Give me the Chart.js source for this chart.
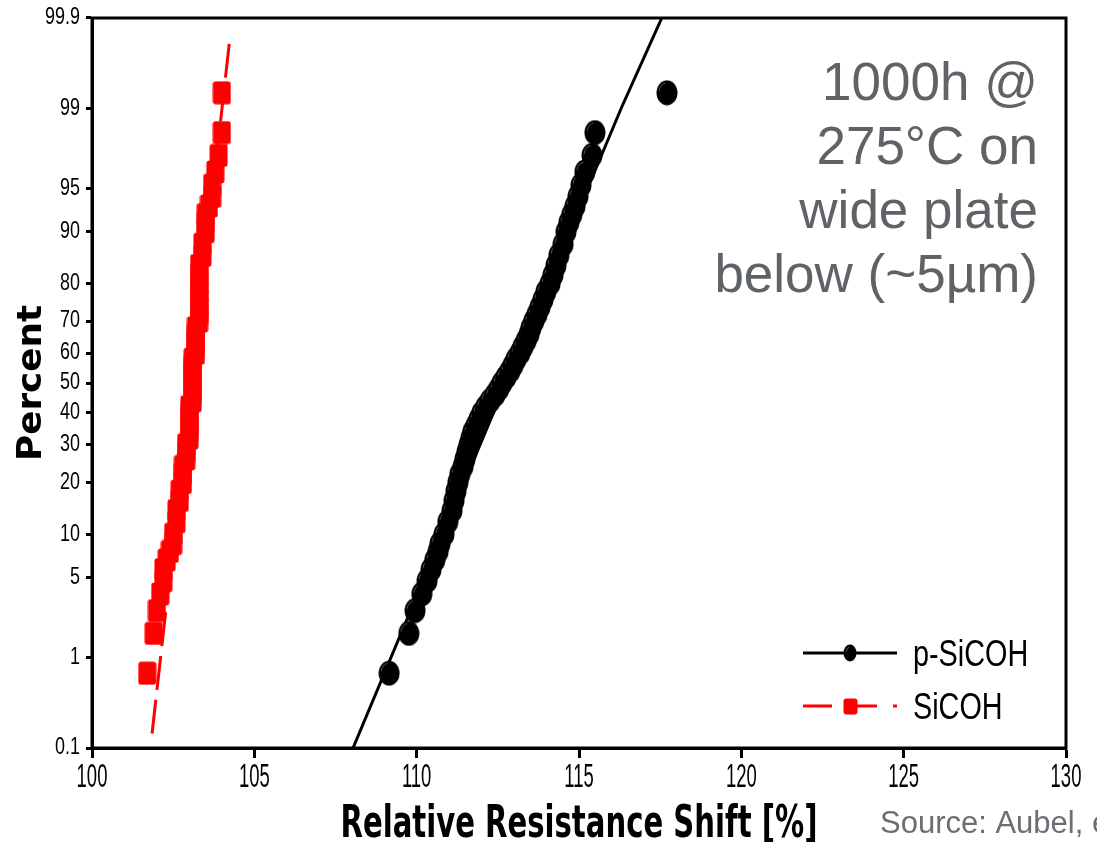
<!DOCTYPE html>
<html>
<head>
<meta charset="utf-8">
<script src="https://cdn.jsdelivr.net/npm/chart.js@4.4.1/dist/chart.umd.min.js"></script>
<style>
  html, body { margin: 0; padding: 0; background: #fff; }
  #wrap { width: 1097px; height: 842px; position: relative; }
</style>
</head>
<body>
<div id="wrap"><canvas id="chart"></canvas></div>
<script>
// cumulative percent (median rank) of each sample, shared by both wafers
const percentRank = [0.7, 1.7, 2.7, 3.7, 4.7, 5.7, 6.7, 7.7, 8.7,
  10, 12, 14, 16, 18, 20, 22, 24, 26, 28,
  30, 32, 34, 36, 38, 40, 42, 44, 46, 48,
  50, 52, 54, 56, 58, 60, 62, 64, 66, 68,
  70, 72, 74, 76, 78, 80, 82, 84, 86, 88,
  90, 91.3, 92.3, 93.3, 94.3, 95.3, 96.3, 97.3, 98.3, 99.3];

const pSicohShift = [109.15, 109.76, 109.95, 110.16, 110.32, 110.44, 110.56, 110.66, 110.72,
  110.84, 110.96, 111.09, 111.15, 111.21, 111.27, 111.33, 111.43, 111.49, 111.55,
  111.61, 111.67, 111.73, 111.83, 111.92, 112.01, 112.13, 112.26, 112.41, 112.53,
  112.63, 112.75, 112.87, 112.97, 113.06, 113.18, 113.27, 113.37, 113.46, 113.52,
  113.61, 113.71, 113.80, 113.89, 113.98, 114.11, 114.20, 114.29, 114.38, 114.51,
  114.60, 114.69, 114.78, 114.88, 114.97, 115.06, 115.18, 115.40, 115.49, 117.71];

const sicohShift = [101.7, 101.9, 102.0, 102.1, 102.2, 102.2, 102.3, 102.4, 102.5,
  102.5, 102.6, 102.6, 102.7, 102.7, 102.8, 102.8, 102.8, 102.9, 102.9,
  102.9, 103.0, 103.0, 103.0, 103.0, 103.0, 103.0, 103.1, 103.1, 103.1,
  103.1, 103.1, 103.1, 103.1, 103.1, 103.2, 103.2, 103.2, 103.2, 103.2,
  103.3, 103.3, 103.3, 103.3, 103.3, 103.3, 103.3, 103.3, 103.4, 103.4,
  103.5, 103.5, 103.5, 103.6, 103.7, 103.7, 103.8, 103.9, 104.0, 104.0];

// fitted distribution lines
const pSicohFitPct = [0.1, 50, 99, 99.9];
const pSicohFitShift = [108.04, 112.75, 116.3, 117.55];
const sicohFitPct = [0.15, 99.83];
const sicohFitShift = [101.85, 104.25];

const yTickPercents = [0.1, 1, 5, 10, 20, 30, 40, 50, 60, 70, 80, 90, 95, 99, 99.9];
const yTickLabels = ['0.1', '1', '5', '10', '20', '30', '40', '50', '60', '70', '80', '90', '95', '99', '99.9'];
const seriesNames = ['p-SiCOH', 'SiCOH'];
const noteLines = ['1000h @', '275°C on', 'wide plate', 'below (~5µm)'];

const SANS = "'Liberation Sans', Arial, sans-serif";
const RED_DASH = [34, 10];

// inverse normal cdf (Acklam) -> probability paper
function probit(p) {
  const a = [-39.69683028665376, 220.9460984245205, -275.9285104469687, 138.3577518672690, -30.66479806614716, 2.506628277459239];
  const b = [-54.47609879822406, 161.5858368580409, -155.6989798598866, 66.80131188771972, -13.28068155288572];
  const c = [-0.007784894002430293, -0.3223964580411365, -2.400758277161838, -2.549732539343734, 4.374664141464968, 2.938163982698783];
  const d = [0.007784695709041462, 0.3224671290700398, 2.445134137142996, 3.754408661907416];
  const pl = 0.02425;
  let q, r;
  if (p < pl) {
    q = Math.sqrt(-2 * Math.log(p));
    return (((((c[0]*q+c[1])*q+c[2])*q+c[3])*q+c[4])*q+c[5]) / ((((d[0]*q+d[1])*q+d[2])*q+d[3])*q+1);
  }
  if (p > 1 - pl) {
    q = Math.sqrt(-2 * Math.log(1 - p));
    return -(((((c[0]*q+c[1])*q+c[2])*q+c[3])*q+c[4])*q+c[5]) / ((((d[0]*q+d[1])*q+d[2])*q+d[3])*q+1);
  }
  q = p - 0.5; r = q * q;
  return (((((a[0]*r+a[1])*r+a[2])*r+a[3])*r+a[4])*r+a[5])*q / (((((b[0]*r+b[1])*r+b[2])*r+b[3])*r+b[4])*r+1);
}

function toPoints(xs, pcts) {
  return xs.map((x, i) => ({ x: x, y: probit(pcts[i] / 100) }));
}

function makeDot(w, h) {
  let c = document.createElement('canvas');
  c.width = w; c.height = h;
  let g = c.getContext('2d');
  g.fillStyle = '#000';
  g.beginPath();
  g.ellipse(w / 2, h / 2, w / 2 - 0.5, h / 2 - 0.5, 0, 0, Math.PI * 2);
  g.fill();
  g.strokeStyle = 'rgba(140,140,140,0.6)';
  g.lineWidth = 1;
  g.beginPath();
  g.ellipse(w / 2, h / 2, w / 2 - 3, h / 2 - 3, 0, Math.PI * 1.05, Math.PI * 1.45);
  g.stroke();
  return c;
}

function makeSquare(w, h) {
  let c = document.createElement('canvas');
  c.width = w; c.height = h;
  let g = c.getContext('2d');
  g.fillStyle = '#ff0000';
  g.beginPath();
  g.roundRect(0.5, 0.5, w - 1, h - 1, 3);
  g.fill();
  return c;
}

const dotBig = makeDot(22, 26);
const squareBig = makeSquare(19, 24);
const dotSmall = makeDot(14, 18);
const squareSmall = makeSquare(15, 17);

// condensed text: squeeze horizontally by sx
function drawText(ctx, text, x, y, font, sx, align, baseline, color) {
  ctx.save();
  ctx.font = font;
  ctx.translate(x, y);
  ctx.scale(sx, 1);
  ctx.textAlign = align;
  ctx.textBaseline = baseline;
  ctx.fillStyle = color || '#000';
  ctx.fillText(text, 0, 0);
  ctx.restore();
}

function drawFitted(ctx, text, x, y, font, targetW, rot) {
  ctx.save();
  ctx.font = font;
  let w = ctx.measureText(text).width;
  ctx.translate(x, y);
  ctx.rotate(rot);
  ctx.scale(targetW / w, 1);
  ctx.textAlign = 'center';
  ctx.textBaseline = 'alphabetic';
  ctx.fillStyle = '#000';
  ctx.fillText(text, 0, 0);
  ctx.restore();
}

const decorPlugin = {
  id: 'decor',
  afterDraw(chart) {
    const ctx = chart.ctx;
    const a = chart.chartArea;
    const xs = chart.scales.x, ys = chart.scales.y;
    // frame
    ctx.save();
    ctx.strokeStyle = '#000';
    ctx.lineWidth = 3;
    ctx.strokeRect(a.left, a.top, a.right - a.left, a.bottom - a.top);
    ctx.restore();

    // tick labels (narrow)
    xs.ticks.forEach(t => {
      drawText(ctx, String(t.value), xs.getPixelForValue(t.value), a.bottom + 39,
        '33px ' + SANS, 0.56, 'center', 'alphabetic');
    });
    ys.ticks.forEach((t, i) => {
      drawText(ctx, yTickLabels[i], a.left - 12, ys.getPixelForValue(t.value),
        '23px ' + SANS, 0.78, 'right', 'middle');
    });

    // axis titles
    drawFitted(ctx, 'Relative Resistance Shift [%]', (a.left + a.right) / 2, 837,
      "bold 45px 'DejaVu Sans', sans-serif", 477, 0);
    drawFitted(ctx, 'Percent', 41, (a.top + a.bottom) / 2,
      "bold 34px 'DejaVu Sans', sans-serif", 156, -Math.PI / 2);

    // note text
    ctx.save();
    ctx.font = '53px ' + SANS;
    ctx.fillStyle = '#5f6368';
    ctx.textAlign = 'right';
    ctx.textBaseline = 'alphabetic';
    noteLines.forEach((l, i) => ctx.fillText(l, a.right - 28, 100 + i * 64));
    ctx.font = '31px ' + SANS;
    ctx.fillStyle = '#6b6e73';
    ctx.textAlign = 'left';
    ctx.fillText('Source: Aubel, et al.', 880, 833);
    ctx.restore();

    // legend
    const lx0 = a.right - 263, lx1 = a.right - 169, tx = a.right - 153;
    const rows = [a.bottom - 95, a.bottom - 42];
    ctx.save();
    ctx.lineWidth = 3;
    ctx.strokeStyle = '#000';
    ctx.beginPath(); ctx.moveTo(lx0, rows[0]); ctx.lineTo(lx1, rows[0]); ctx.stroke();
    ctx.drawImage(dotSmall, (lx0 + lx1) / 2 - 7, rows[0] - 9);
    ctx.strokeStyle = '#ff0000';
    ctx.setLineDash([29, 24, 21, 16]);
    ctx.beginPath(); ctx.moveTo(lx0, rows[1]); ctx.lineTo(lx1, rows[1]); ctx.stroke();
    ctx.setLineDash([]);
    ctx.drawImage(squareSmall, (lx0 + lx1) / 2 - 7, rows[1] - 8);
    ctx.restore();
    seriesNames.forEach((n, i) => drawText(ctx, n, tx, rows[i] + 13, '36px ' + SANS, 0.8, 'left', 'alphabetic'));
  }
};

const zMin = probit(0.001), zMax = probit(0.999);

new Chart(document.getElementById('chart'), {
  type: 'scatter',
  data: {
    datasets: [
      {
        label: seriesNames[0],
        data: toPoints(pSicohShift, percentRank),
        pointStyle: dotBig,
        showLine: false
      },
      {
        label: seriesNames[1],
        data: toPoints(sicohShift, percentRank),
        pointStyle: squareBig,
        showLine: false
      },
      {
        label: 'p-SiCOH fit',
        data: toPoints(pSicohFitShift, pSicohFitPct),
        showLine: true,
        borderColor: '#000',
        borderWidth: 3,
        pointRadius: 0
      },
      {
        label: 'SiCOH fit',
        data: toPoints(sicohFitShift, sicohFitPct),
        showLine: true,
        borderColor: '#ff0000',
        borderWidth: 3,
        borderDash: RED_DASH,
        pointRadius: 0
      }
    ]
  },
  options: {
    responsive: true,
    maintainAspectRatio: false,
    animation: false,
    layout: { padding: { top: 18, right: 31, left: 0, bottom: 0 } },
    plugins: { legend: { display: false }, tooltip: { enabled: false } },
    scales: {
      x: {
        type: 'linear',
        min: 100, max: 130,
        afterFit: (s) => { s.height = 94; },
        ticks: { stepSize: 5, display: false },
        grid: { drawOnChartArea: false, tickLength: 10, tickWidth: 3, tickColor: '#000' },
        border: { color: '#000', width: 3 }
      },
      y: {
        type: 'linear',
        min: zMin, max: zMax,
        afterFit: (s) => { s.width = 92; },
        afterBuildTicks: (s) => { s.ticks = yTickPercents.map(p => ({ value: probit(p / 100) })); },
        ticks: { display: false },
        grid: { drawOnChartArea: false, tickLength: 6, tickWidth: 3, tickColor: '#000' },
        border: { color: '#000', width: 3 }
      }
    }
  },
  plugins: [decorPlugin]
});
</script>
</body>
</html>
